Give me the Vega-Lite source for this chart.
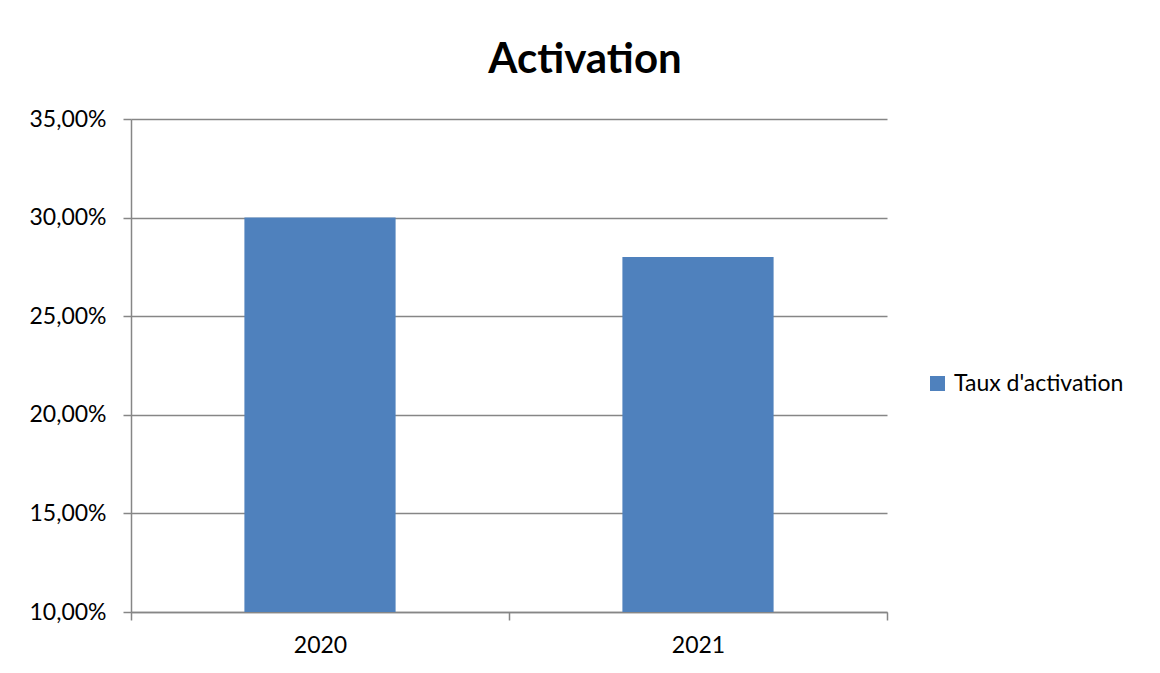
{
  "$schema": "https://vega.github.io/schema/vega-lite/v6.json",
  "autosize": "none",
  "width": 756,
  "height": 493,
  "padding": {"left": 131, "top": 119, "right": 273, "bottom": 61},
  "background": "white",
  "title": {
    "text": "Activation",
    "font": "Lato",
    "fontSize": 42,
    "fontWeight": "bold",
    "color": "black",
    "anchor": "middle",
    "dx": 76,
    "offset": 26
  },
  "data": {
    "values": [
      {"year": "2020", "value": 0.30, "series": "Taux d'activation"},
      {"year": "2021", "value": 0.28, "series": "Taux d'activation"}
    ]
  },
  "mark": {"type": "bar", "width": {"band": 0.4}, "clip": true},
  "encoding": {
    "x": {
      "field": "year",
      "type": "nominal",
      "scale": {"paddingInner": 0, "paddingOuter": 0},
      "axis": {
        "title": null,
        "labelAngle": 0,
        "tickBand": "extent",
        "tickSize": 8,
        "labelPadding": 14,
        "grid": false
      }
    },
    "y": {
      "field": "value",
      "type": "quantitative",
      "scale": {"domain": [0.1, 0.35], "nice": false, "zero": false},
      "axis": {
        "title": null,
        "format": ".2%",
        "values": [0.1, 0.15, 0.2, 0.25, 0.3, 0.35],
        "grid": true,
        "tickSize": 8,
        "labelPadding": 17
      }
    },
    "color": {
      "field": "series",
      "type": "nominal",
      "scale": {"range": ["#4F81BD"]},
      "legend": {
        "title": null,
        "orient": "none",
        "legendX": 795,
        "legendY": 253,
        "symbolType": "square",
        "symbolSize": 225,
        "symbolStrokeWidth": 0,
        "symbolOpacity": 1,
        "labelFont": "Lato",
        "labelFontSize": 23,
        "labelColor": "black",
        "labelOffset": 5,
        "labelLimit": 0,
        "padding": 0
      }
    }
  },
  "config": {
    "locale": {
      "number": {"decimal": ",", "thousands": " ", "grouping": [3], "currency": ["", " €"]}
    },
    "view": {"stroke": null},
    "axis": {
      "labelFont": "Lato",
      "labelFontSize": 23,
      "labelColor": "black",
      "domainColor": "#868686",
      "tickColor": "#868686",
      "gridColor": "#868686",
      "gridOpacity": 1,
      "domainWidth": 1.5,
      "tickWidth": 1.5,
      "gridWidth": 1.5
    }
  }
}
